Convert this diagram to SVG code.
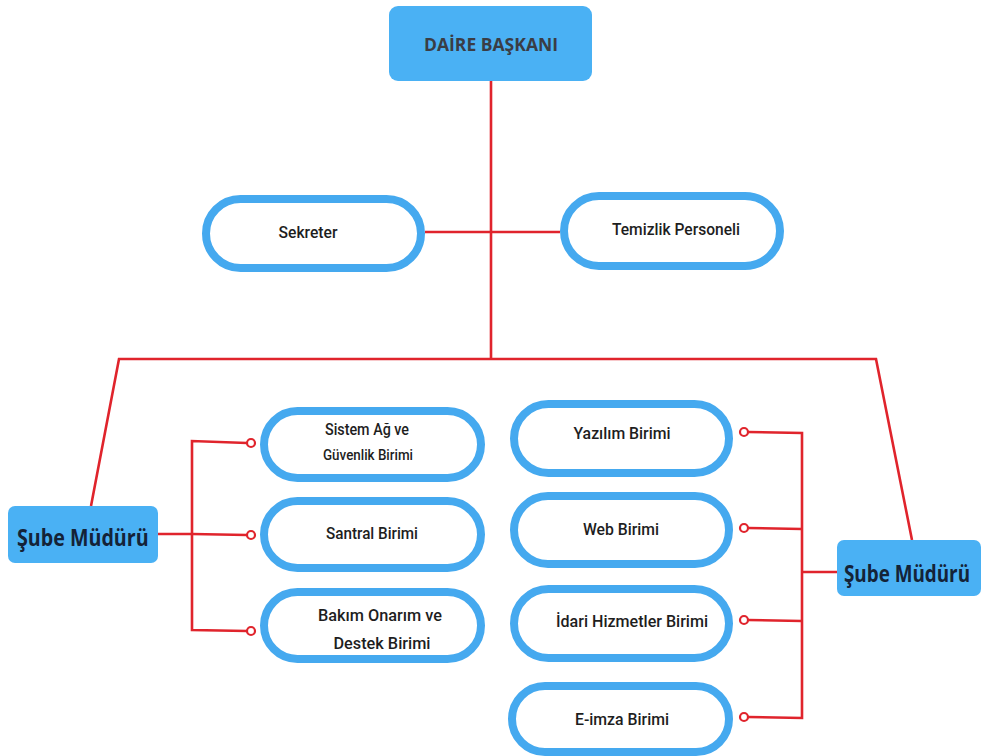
<svg xmlns="http://www.w3.org/2000/svg" width="981" height="756" viewBox="0 0 981 756">
<style>
.bg{fill:#ffffff}
.box{fill:#4ab1f4}
.pill{fill:#ffffff;stroke:#45a9ef;stroke-width:8}
.line{fill:none;stroke:#e0242c;stroke-width:2.6;stroke-linejoin:miter}
.dot{fill:#ffffff;stroke:#e0242c;stroke-width:2.2}
.t{font-family:Roboto,"Open Sans","Liberation Sans",sans-serif;font-weight:500;fill:#1e1e1e;text-anchor:middle}
.head{font-family:"Open Sans","Liberation Sans",sans-serif;font-weight:700;fill:#3a3d45;text-anchor:middle;font-size:18px}
.sube{font-family:"Open Sans","Liberation Sans",sans-serif;font-weight:700;fill:#142338;font-size:24px}
</style>
<rect class="bg" x="0" y="0" width="981" height="756"/>
<g id="connectors">
<polyline class="line" points="491,80 491,359"/>
<polyline class="line" points="425,232 560,232"/>
<polyline class="line" points="91,506 119,359 876,359 912,540"/>
<polyline class="line" points="158,534 192,534"/>
<polyline class="line" points="247,443 192,441 192,630 247,631"/>
<polyline class="line" points="192,534 247,535"/>
<polyline class="line" points="748,432 802,433 802,718 748,717"/>
<polyline class="line" points="748,528 802,529"/>
<polyline class="line" points="748,620 802,621"/>
<polyline class="line" points="802,572 837,572"/>
<circle class="dot" cx="251" cy="443" r="4"/>
<circle class="dot" cx="251" cy="535" r="4"/>
<circle class="dot" cx="251" cy="631" r="4"/>
<circle class="dot" cx="744" cy="432" r="4"/>
<circle class="dot" cx="744" cy="528" r="4"/>
<circle class="dot" cx="744" cy="620" r="4"/>
<circle class="dot" cx="744" cy="717" r="4"/>
</g>
<g id="daire-baskani">
<rect class="box" x="389" y="6" width="203" height="75" rx="9"/>
<text class="head" x="491" y="51" textLength="134" lengthAdjust="spacingAndGlyphs">DAİRE BAŞKANI</text>
</g>
<g id="sekreter">
<rect class="pill" x="206" y="199" width="215" height="69" rx="34.5"/>
<text class="t" x="308" y="238" font-size="17" textLength="59" lengthAdjust="spacingAndGlyphs">Sekreter</text>
</g>
<g id="temizlik">
<rect class="pill" x="564" y="196" width="216" height="70" rx="35"/>
<text class="t" x="676" y="235" font-size="17" textLength="128" lengthAdjust="spacingAndGlyphs">Temizlik Personeli</text>
</g>
<g id="sube-mudur-sol">
<rect class="box" x="8" y="506" width="150" height="57" rx="7"/>
<text class="sube" transform="translate(17,546) scale(0.82,1)">Şube Müdürü</text>
</g>
<g id="sube-mudur-sag">
<rect class="box" x="837" y="540" width="144" height="56" rx="7"/>
<text class="sube" transform="translate(844,582) scale(0.785,1)">Şube Müdürü</text>
</g>
<g id="sistem-ag">
<rect class="pill" x="264" y="411" width="217" height="67" rx="33.5"/>
<text class="t" x="367" y="435" font-size="16" textLength="84" lengthAdjust="spacingAndGlyphs">Sistem Ağ ve</text>
<text class="t" x="368" y="460" font-size="14" textLength="90" lengthAdjust="spacingAndGlyphs">Güvenlik Birimi</text>
</g>
<g id="santral">
<rect class="pill" x="264" y="501" width="217" height="67" rx="33.5"/>
<text class="t" x="372" y="539" font-size="16" textLength="92" lengthAdjust="spacingAndGlyphs">Santral Birimi</text>
</g>
<g id="bakim-onarim">
<rect class="pill" x="264" y="592" width="217" height="67" rx="33.5"/>
<text class="t" x="380" y="621" font-size="16" textLength="124" lengthAdjust="spacingAndGlyphs">Bakım Onarım ve</text>
<text class="t" x="382" y="649" font-size="16" textLength="97" lengthAdjust="spacingAndGlyphs">Destek Birimi</text>
</g>
<g id="yazilim">
<rect class="pill" x="514" y="404" width="215" height="69" rx="34.5"/>
<text class="t" x="622" y="439" font-size="16" textLength="97" lengthAdjust="spacingAndGlyphs">Yazılım Birimi</text>
</g>
<g id="web">
<rect class="pill" x="514" y="496" width="215" height="68" rx="34"/>
<text class="t" x="621" y="535" font-size="16" textLength="76" lengthAdjust="spacingAndGlyphs">Web Birimi</text>
</g>
<g id="idari-hizmetler">
<rect class="pill" x="514" y="589" width="215" height="69" rx="34.5"/>
<text class="t" x="632" y="627" font-size="16" textLength="152" lengthAdjust="spacingAndGlyphs">İdari Hizmetler Birimi</text>
</g>
<g id="e-imza">
<rect class="pill" x="512" y="686" width="217" height="66" rx="33"/>
<text class="t" x="622" y="725" font-size="16" textLength="94" lengthAdjust="spacingAndGlyphs">E-imza Birimi</text>
</g>
</svg>
